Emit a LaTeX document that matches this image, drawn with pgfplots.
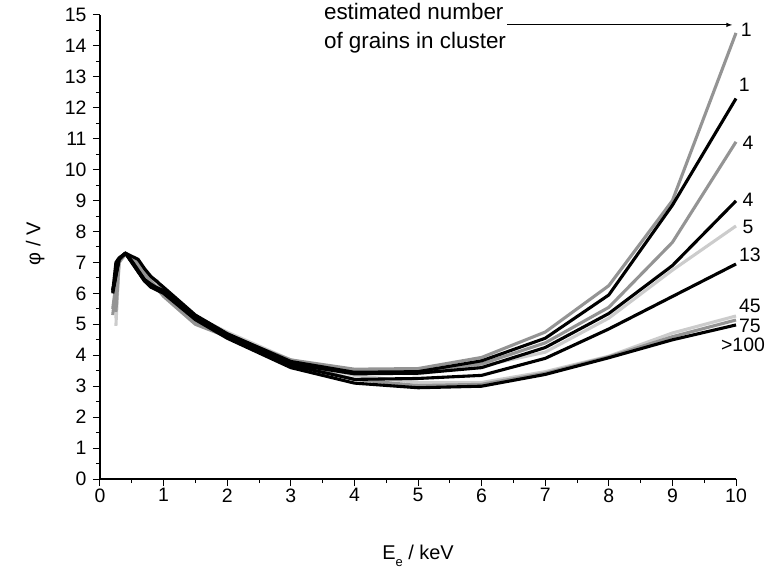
\documentclass[border=0pt]{standalone}
\usepackage{pgfplots}
\pgfplotsset{compat=1.18}
\usepackage{fontspec}
\setmainfont{Liberation Sans}
\definecolor{cgray}{gray}{0.58}
\definecolor{clight}{gray}{0.80}
\begin{document}
\begin{tikzpicture}
\useasboundingbox (-100bp,-93bp) rectangle (667bp,479bp);
\begin{axis}[
  at={(0,0)}, anchor=south west,
  width=636bp, height=464bp, scale only axis,
  xmin=0, xmax=10, ymin=0, ymax=15,
  axis lines*=left,
  xtick={0,...,10}, ytick={0,...,15},
  minor x tick num=1, minor y tick num=1,
  tick align=outside,
  major tick length=7bp, minor tick length=4bp,
  axis line style={line width=1.1bp},
  every tick/.style={black, line width=1bp},
  tick label style={font=\fontsize{19.5}{22}\selectfont},
  xticklabel style={yshift=1bp},
  yticklabel style={xshift=-3bp},
  /pgf/number format/assume math mode=true,
  clip=false,
  every axis plot/.append style={line width=3.1bp, line join=round},
]
\addplot[clight] coordinates {(0.25,5.2) (0.3,7.0) (0.4,7.3) (0.5,7.15) (0.6,6.95) (0.7,6.7) (0.8,6.5) (1,6.15) (1.5,5.25) (2,4.75) (3,3.85) (4,3.35) (5,3.12) (6,3.12) (7,3.47) (8,3.97) (9,4.72) (10,5.27)};
\addplot[clight] coordinates {(0.25,4.95) (0.3,7.0) (0.4,7.25) (0.5,7.1) (0.6,6.9) (0.7,6.6) (0.8,6.45) (1,6.1) (1.5,5.2) (2,4.7) (3,3.85) (4,3.45) (5,3.4) (6,3.65) (7,4.1) (8,5.2) (9,6.75) (10,8.18)};
\addplot[cgray] coordinates {(0.2,5.3) (0.3,7.05) (0.4,7.3) (0.5,7.1) (0.6,6.85) (0.7,6.55) (0.8,6.35) (1,6.0) (1.5,5.1) (2,4.65) (3,3.75) (4,3.22) (5,3.02) (6,3.06) (7,3.42) (8,3.95) (9,4.6) (10,5.14)};
\addplot[cgray] coordinates {(0.25,5.4) (0.3,7.0) (0.4,7.3) (0.5,7.15) (0.6,7.0) (0.7,6.75) (0.8,6.5) (0.9,6.4) (1,6.0) (1.5,5.05) (2,4.65) (3,3.85) (4,3.55) (5,3.57) (6,3.93) (7,4.75) (8,6.25) (9,9.0) (10,14.42)};
\addplot[cgray] coordinates {(0.2,5.5) (0.3,7.1) (0.4,7.3) (0.5,7.1) (0.6,6.9) (0.7,6.6) (0.8,6.4) (1,5.9) (1.5,5.0) (2,4.6) (3,3.8) (4,3.5) (5,3.5) (6,3.72) (7,4.4) (8,5.55) (9,7.65) (10,10.9)};
\addplot[black] coordinates {(0.2,6.05) (0.25,7.0) (0.3,7.15) (0.4,7.3) (0.5,7.2) (0.6,7.1) (0.7,6.8) (0.8,6.55) (1,6.2) (1.5,5.3) (2,4.7) (3,3.8) (4,3.45) (5,3.47) (6,3.82) (7,4.55) (8,5.95) (9,8.85) (10,12.3)};
\addplot[black] coordinates {(0.2,6.1) (0.3,7.1) (0.4,7.3) (0.5,7.0) (0.6,6.7) (0.7,6.4) (0.8,6.25) (1,6.1) (1.5,5.25) (2,4.65) (3,3.72) (4,3.4) (5,3.42) (6,3.6) (7,4.25) (8,5.35) (9,6.9) (10,8.99)};
\addplot[black] coordinates {(0.2,6.0) (0.3,7.1) (0.4,7.3) (0.5,7.05) (0.6,6.75) (0.7,6.45) (0.8,6.3) (1,6.05) (1.5,5.2) (2,4.6) (3,3.68) (4,3.22) (5,3.25) (6,3.35) (7,3.9) (8,4.85) (9,5.9) (10,6.95)};
\addplot[black] coordinates {(0.2,6.1) (0.3,7.1) (0.4,7.3) (0.5,7.0) (0.6,6.7) (0.7,6.4) (0.8,6.2) (1,6.0) (1.5,5.15) (2,4.55) (3,3.6) (4,3.1) (5,2.95) (6,3.0) (7,3.38) (8,3.92) (9,4.5) (10,4.98)};
% annotations
\tikzset{lab/.style={font=\fontsize{19.5}{22}\selectfont, inner sep=0pt}}
\node[lab] at (axis cs:10.16,14.52) {1};
\node[lab] at (axis cs:10.13,12.74) {1};
\node[lab] at (axis cs:10.19,10.86) {4};
\node[lab] at (axis cs:10.19,9.02) {4};
\node[lab] at (axis cs:10.19,8.15) {5};
\node[lab] at (axis cs:10.22,7.24) {13};
\node[lab] at (axis cs:10.22,5.59) {45};
\node[lab] at (axis cs:10.22,4.95) {75};
\node[lab] at (axis cs:10.11,4.33) {>100};
\node[font=\fontsize{22.5}{25}\selectfont, anchor=west, inner sep=0pt] at (axis cs:3.52,15.12) {estimated number};
\node[font=\fontsize{22.5}{25}\selectfont, anchor=west, inner sep=0pt] at (axis cs:3.52,14.12) {of grains in cluster};
\draw[-latex, line width=1bp] (axis cs:6.4,14.68) -- (axis cs:9.94,14.68);
\node[font=\fontsize{20}{22}\selectfont, rotate=90] at (axis cs:-1.02,7.6) {φ / V};
\node[font=\fontsize{20}{22}\selectfont] at (axis cs:5,-2.48) {E\raisebox{-7bp}{\fontsize{13}{13}\selectfont e} / keV};
\end{axis}
\end{tikzpicture}
\end{document}
